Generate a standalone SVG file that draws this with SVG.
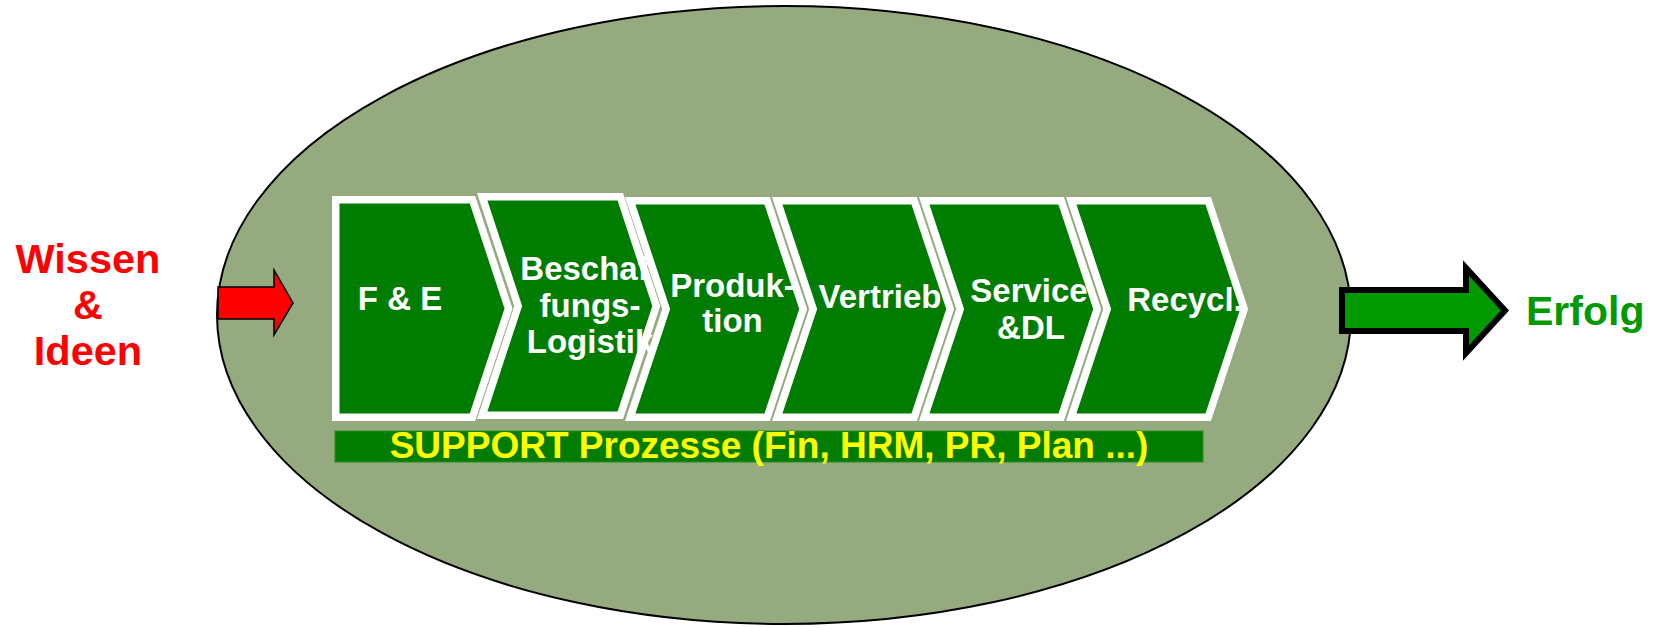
<svg xmlns="http://www.w3.org/2000/svg" width="1662" height="628" viewBox="0 0 1662 628">
  <style>
    .lbl { font-family: "Liberation Sans", Arial, sans-serif; font-weight: bold; }
    .step { fill: #007d00; stroke: #ffffff; stroke-width: 7.5; stroke-linejoin: miter; stroke-miterlimit: 10; }
    .steptxt { fill: #ffffff; font-size: 33px; text-anchor: middle; }
  </style>
  <rect width="1662" height="628" fill="#ffffff"/>

  <!-- enterprise boundary -->
  <g id="enterprise">
    <ellipse cx="784" cy="315" rx="567" ry="309" fill="#96aa80" stroke="#000000" stroke-width="2"/>
  </g>

  <!-- input / output arrows -->
  <g id="connectors">
    <polygon points="218,287 274,287 274,270 293,303 274,335 274,319 218,319" fill="#ff0000" stroke="#000000" stroke-width="1.5" stroke-linejoin="miter"/>
    <polygon points="1342,290 1466,290 1466,268 1505,310.5 1466,353 1466,331 1342,331" fill="#009900" stroke="#000000" stroke-width="6" stroke-linejoin="miter"/>
  </g>

  <g id="input">
    <text class="lbl" x="88" y="273" font-size="41.5" fill="#ff0000" text-anchor="middle">Wissen</text>
    <text class="lbl" x="88" y="319" font-size="41.5" fill="#ff0000" text-anchor="middle">&amp;</text>
    <text class="lbl" x="88" y="365" font-size="41.5" fill="#ff0000" text-anchor="middle">Ideen</text>
  </g>

  <g id="output">
    <text class="lbl" x="1526" y="325" font-size="41" fill="#009900">Erfolg</text>
  </g>

  <!-- value chain -->
  <g id="step-fe">
    <polygon class="step" points="335.75,199.75 472.5,199.75 508.5,308.5 472.5,417.25 335.75,417.25"/>
    <text class="lbl steptxt" x="400" y="310">F &amp; E</text>
  </g>

  <g id="step-beschaffung">
    <polygon class="step" points="482.2,196.75 620.3,196.75 656.3,306 620.3,415.25 482.2,415.25 518.2,306"/>
    <text class="lbl steptxt" x="590" y="280">Beschaf-</text>
    <text class="lbl steptxt" x="590" y="316.5">fungs-</text>
    <text class="lbl steptxt" x="590" y="353">Logistik</text>
  </g>

  <g id="step-produktion">
    <polygon class="step" points="630.2,200.75 767.2,200.75 803.2,309 767.2,417.25 630.2,417.25 666.2,309"/>
    <text class="lbl steptxt" x="732.5" y="297">Produk-</text>
    <text class="lbl steptxt" x="732.5" y="332">tion</text>
  </g>

  <g id="step-vertrieb">
    <polygon class="step" points="777.2,200.75 914.2,200.75 950.2,309 914.2,417.25 777.2,417.25 813.2,309"/>
    <text class="lbl steptxt" x="880" y="308">Vertrieb</text>
  </g>

  <g id="step-service">
    <polygon class="step" points="924.2,200.75 1061.2,200.75 1097.2,309 1061.2,417.25 924.2,417.25 960.2,309"/>
    <text class="lbl steptxt" x="1029" y="301.5">Service</text>
    <text class="lbl steptxt" x="1031" y="339">&amp;DL</text>
  </g>

  <g id="step-recycling">
    <polygon class="step" points="1071.2,200.75 1208.2,200.75 1244.2,309 1208.2,417.25 1071.2,417.25 1107.2,309"/>
    <text class="lbl steptxt" x="1185" y="311">Recycl.</text>
  </g>

  <!-- support processes -->
  <g id="support">
    <rect x="335" y="431" width="868" height="31" fill="#007d00" stroke="#2f8a22" stroke-width="1"/>
    <text class="lbl" x="769" y="458" font-size="37" fill="#ffff00" text-anchor="middle">SUPPORT Prozesse (Fin, HRM, PR, Plan ...)</text>
  </g>
</svg>
